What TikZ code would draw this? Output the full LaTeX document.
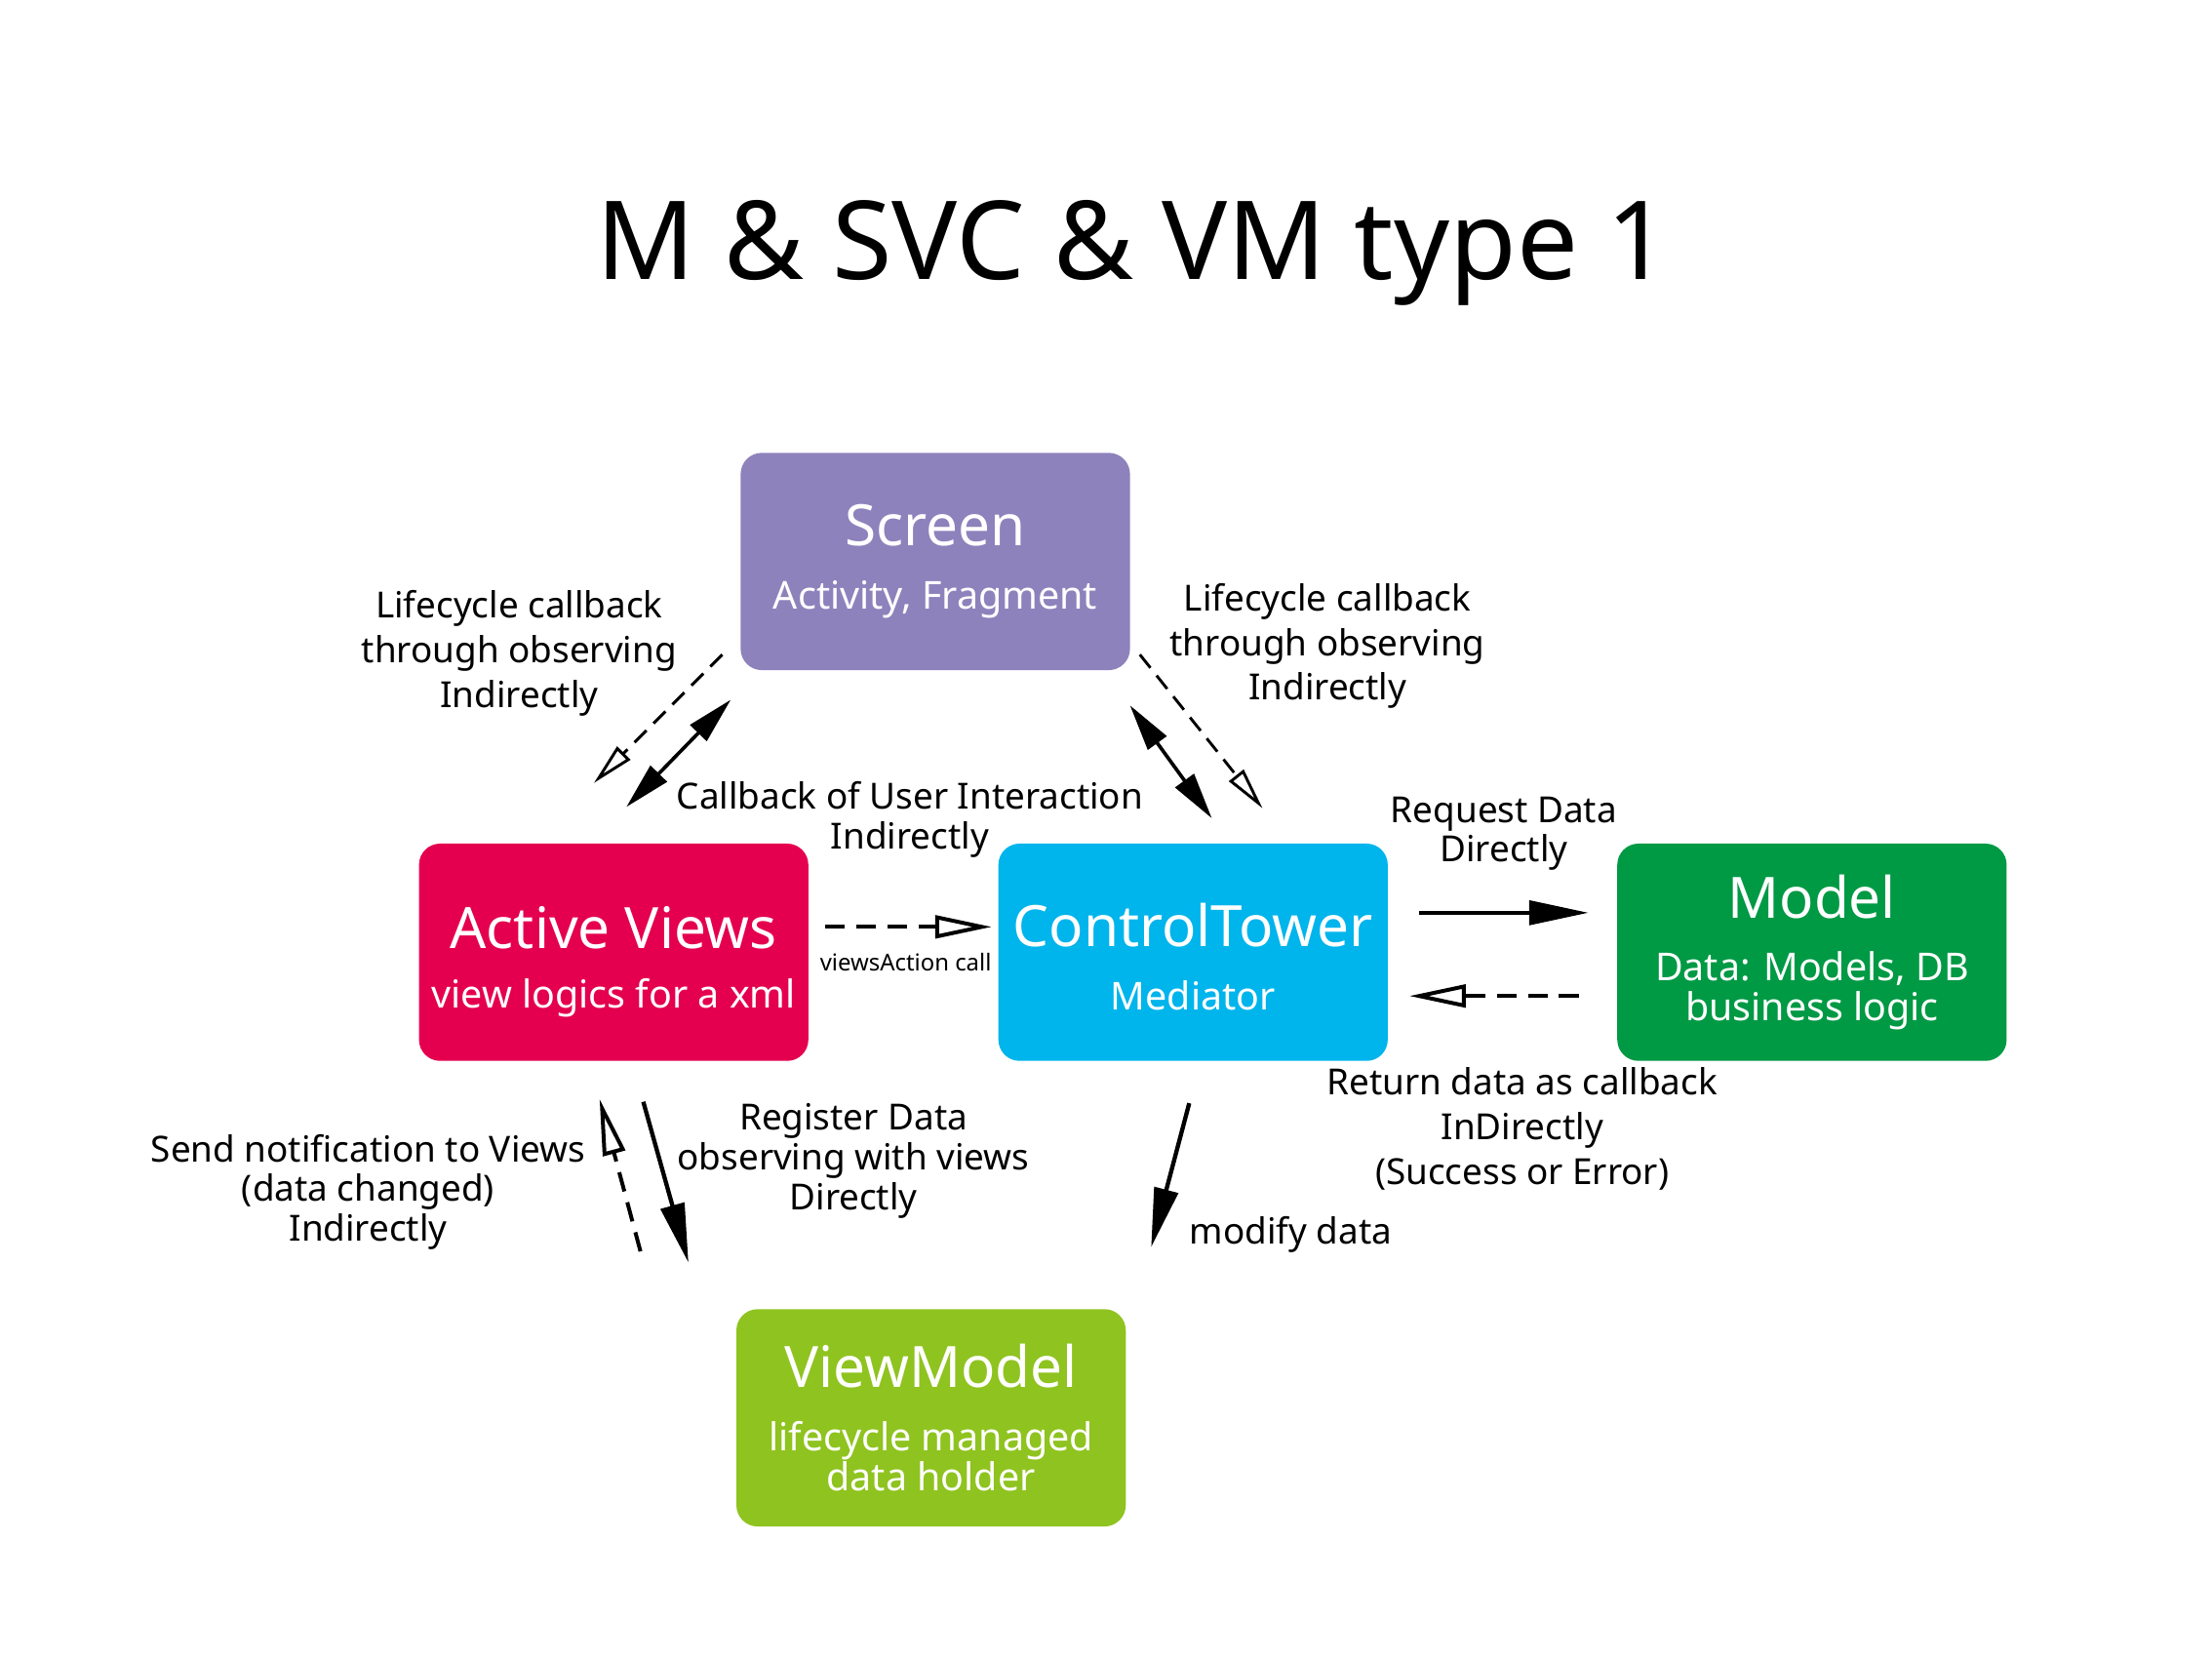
\documentclass[tikz,border=0pt]{standalone}
\usepackage{fontspec}
\setmainfont{Noto Sans}
\usepackage{xcolor}
\definecolor{screenpurple}{RGB}{142,130,188}
\definecolor{viewred}{RGB}{229,0,79}
\definecolor{towerblue}{RGB}{0,180,236}
\definecolor{modelgreen}{RGB}{0,153,68}
\definecolor{vmgreen}{RGB}{143,195,31}
\usepackage{tikz}
\usetikzlibrary{arrows.meta, positioning}

\begin{document}
\begin{tikzpicture}[
  x = 0.2mm, y = -0.2mm,
  block/.style    = {rectangle, rounded corners=3mm, text=white,
                     minimum width=55.2mm, minimum height=30.8mm, align=center,
                     inner sep=2pt, font=\fontsize{15.5}{16}\selectfont},
  note/.style     = {align=center, inner sep=0pt, font=\fontsize{14.5}{16}\selectfont},
  wide/.style     = {font=\fontsize{14.5}{18}\selectfont},
  direct/.style   = {-{Triangle[length=8.4mm, width=3.4mm]}, line width=0.6mm},
  both/.style     = {{Triangle[length=6.6mm, width=3.2mm]}-{Triangle[length=6.6mm, width=3.2mm]},
                     line width=0.5mm},
  indirect/.style = {-{Triangle[open, length=8mm, width=3.2mm]}, line width=0.55mm,
                     dash pattern=on 2.8mm off 1.6mm},
  observe/.style  = {-{Triangle[open, length=6mm, width=2.6mm]}, line width=0.4mm,
                     dash pattern=on 2.4mm off 1.4mm},
]
\useasboundingbox (0,0) rectangle (1568,1176);

\node[anchor=base, font=\fontsize{44}{50}\selectfont] (title) at (803,198) {M \& SVC \& VM type 1};

% blocks
\node[block, fill=screenpurple] (scr) at (663,398)
  {{\fontsize{23}{24}\selectfont Screen}\\[9.5pt] Activity, Fragment};
\node[block, fill=viewred] (av) at (435,675)
  {{\fontsize{23}{24}\selectfont\rule{0pt}{25pt}Active Views}\\[8pt] view logics for a xml};
\node[block, fill=towerblue, right=26.8mm of av] (ct)
  {{\fontsize{23}{24}\selectfont\rule{0pt}{21pt}ControlTower}\\[9.5pt] Mediator};
\node[block, fill=modelgreen, right=32.4mm of ct] (mdl)
  {{\fontsize{23}{24}\selectfont Model}\\[9.5pt] Data: Models, DB\\ business logic};
\node[block, fill=vmgreen] (vm) at (660,1005)
  {{\fontsize{23}{24}\selectfont ViewModel}\\[9.5pt] lifecycle managed\\ data holder};

% labels
\node[note, wide] (lcl) at (368,463) {Lifecycle callback\\ through observing\\ Indirectly};
\node[note, wide] (lcr) at (941,458) {Lifecycle callback\\ through observing\\ Indirectly};
\node[note] (cbui) at (645,581) {Callback of User Interaction\\ Indirectly};
\node[note] (req) at (1066,591) {Request Data\\ Directly};
\node[note, font=\fontsize{9.4}{11}\selectfont] (vac) at (642,682) {viewsAction call};
\node[note, wide] (ret) at (1079,800) {Return data as callback\\ InDirectly\\ (Success or Error)};
\node[note] (send) at (261,845) {Send notification to Views\\ (data changed)\\ Indirectly};
\node[note] (reg) at (605,823) {Register Data\\ observing with views\\ Directly};
\node[note] (mod) at (915,875) {modify data};

% connector ends
\coordinate (lcl-a) at (512,464);  \coordinate (lcl-b) at (421,555);
\coordinate (cbl-a) at (518,496);  \coordinate (cbl-b) at (444,572);
\coordinate (cbr-a) at (801,500);  \coordinate (cbr-b) at (859,580);
\coordinate (lcr-a) at (808,464);  \coordinate (lcr-b) at (895,573);
\coordinate (vac-a) at (585,657);  \coordinate (vac-b) at (703,657);
\coordinate (req-a) at (1006,647); \coordinate (req-b) at (1126,647);
\coordinate (ret-a) at (1119,706); \coordinate (ret-b) at (999,706);
\coordinate (send-a) at (454,887); \coordinate (send-b) at (425,779);
\coordinate (reg-a) at (456,781);  \coordinate (reg-b) at (488,895);
\coordinate (mod-a) at (843,782);  \coordinate (mod-b) at (816,884);

% connectors
\draw[observe] (lcl-a) -- (lcl-b);
\draw[both] (cbl-a) -- (cbl-b);
\draw[both] (cbr-a) -- (cbr-b);
\draw[observe] (lcr-a) -- (lcr-b);
\draw[indirect] (vac-a) -- (vac-b);
\draw[direct] (req-a) -- (req-b);
\draw[indirect] (ret-a) -- (ret-b);
\draw[indirect] (send-a) -- (send-b);
\draw[direct] (reg-a) -- (reg-b);
\draw[direct] (mod-a) -- (mod-b);
\end{tikzpicture}
\end{document}
